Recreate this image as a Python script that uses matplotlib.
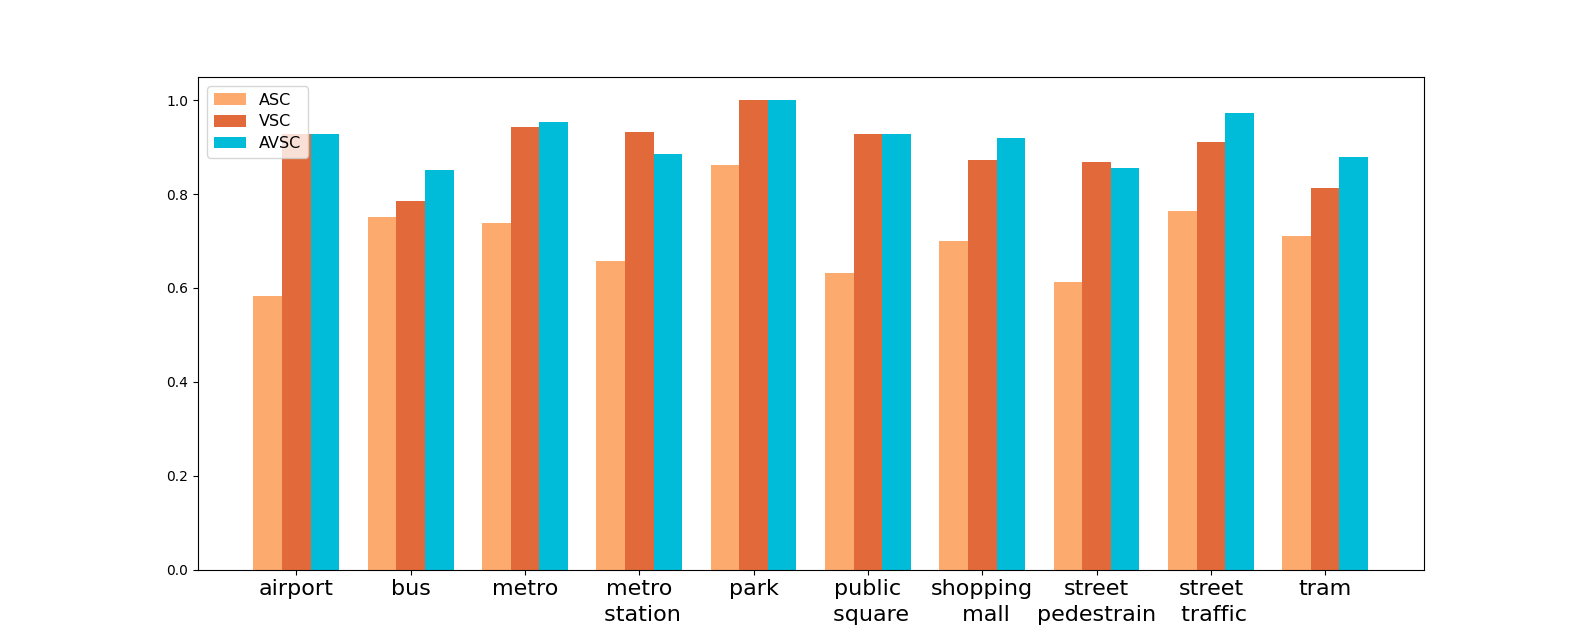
import matplotlib
matplotlib.use("Agg")
import matplotlib.pyplot as plt
import numpy as np

categories = ["airport", "bus", "metro", "metro\n station", "park", "public\n square",
              "shopping\n mall", "street\npedestrain", "street\n traffic", "tram"]
asc = [0.583, 0.751, 0.738, 0.657, 0.862, 0.632, 0.700, 0.612, 0.764, 0.711]
vsc = [0.928, 0.785, 0.943, 0.933, 1.000, 0.928, 0.873, 0.868, 0.911, 0.813]
avsc = [0.928, 0.852, 0.954, 0.886, 1.000, 0.928, 0.920, 0.856, 0.973, 0.880]

fig, ax = plt.subplots(figsize=(15.82, 6.4), dpi=100)
x = np.arange(len(categories))
w = 0.25
ax.bar(x - w, asc, w, color="#FDAA6E", label="ASC")
ax.bar(x, vsc, w, color="#E26A3A", label="VSC")
ax.bar(x + w, avsc, w, color="#00BCD8", label="AVSC")
ax.set_xticks(x)
ax.set_xticklabels(categories, fontsize=16, linespacing=1.33)
ax.legend(loc="upper left", fontsize=11.5, labelspacing=0.42, handlelength=2.0,
          handleheight=0.75, handletextpad=0.85, borderaxespad=0.6)
fig.savefig("out.png", dpi=100)
